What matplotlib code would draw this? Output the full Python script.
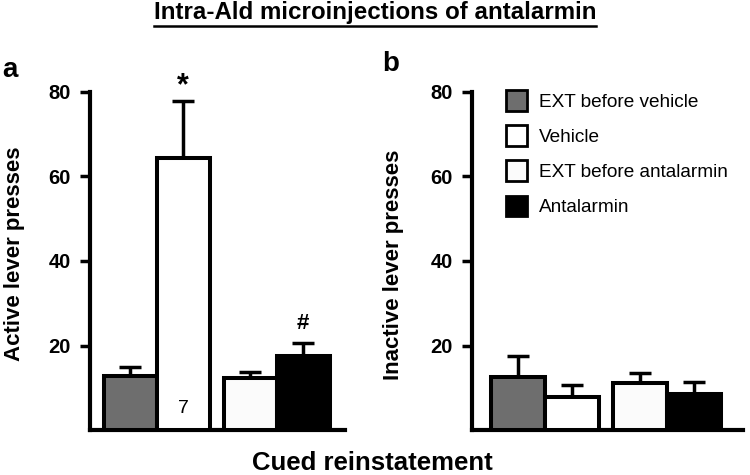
import matplotlib
matplotlib.use("Agg")
import matplotlib.pyplot as plt
from matplotlib.patches import Patch
from matplotlib.lines import Line2D

plt.rcParams['font.family'] = ['Liberation Sans', 'DejaVu Sans']

groups = ["EXT before vehicle", "Vehicle", "EXT before antalarmin", "Antalarmin"]
colors = ["#6e6e6e", "#ffffff", "#fbfbfb", "#000000"]
active_mean = [12.8, 64.4, 12.2, 17.4]
active_err = [2.1, 13.5, 1.5, 3.3]
inactive_mean = [12.6, 7.9, 11.1, 8.5]
inactive_err = [4.9, 2.7, 2.5, 2.9]
yticks = [20, 40, 60, 80]

W, H = 750, 475
fig = plt.figure(figsize=(7.5, 4.75), dpi=100)

def fx(px):
    return px / W

def fy(py):
    return 1 - py / H

ax_a = fig.add_axes([fx(90), fy(430), fx(345 - 90), (430 - 92) / H])
ax_b = fig.add_axes([fx(472), fy(430), fx(743 - 472), (430 - 92) / H])

xpos = [0, 1, 2.26, 3.26]

def draw(ax, means, errs, xlim, ylabel, lab_xy):
    ax.bar(xpos, means, width=1.0, color=colors, edgecolor='black',
           linewidth=2.9, zorder=3)
    ax.errorbar(xpos, means, yerr=[[0] * 4, errs], fmt='none', ecolor='black',
                elinewidth=2.5, capsize=8, capthick=2.5, zorder=2)
    ax.set_ylim(0, 80)
    ax.set_xlim(*xlim)
    ax.set_yticks(yticks)
    ax.set_xticks([])
    for s in ['top', 'right']:
        ax.spines[s].set_visible(False)
    for s in ['left', 'bottom']:
        ax.spines[s].set_linewidth(3.0)
    ax.tick_params(axis='y', length=7, width=2.5, pad=7, labelsize=14.5)
    for lab in ax.get_yticklabels():
        lab.set_fontweight('bold')
    ax.set_ylabel(ylabel, fontsize=16, fontweight='bold')
    ax.yaxis.set_label_coords(*lab_xy)

draw(ax_a, active_mean, active_err, (-0.76, 4.05), "Active lever presses",
     (-0.256, 0.52))
draw(ax_b, inactive_mean, inactive_err, (-0.86, 4.17), "Inactive lever presses",
     (-0.252, 0.49))

# annotations
ax_a.text(xpos[1], active_mean[1] + active_err[1] + 3.5, "*", ha='center',
          va='center', fontsize=22, fontweight='bold')
ax_a.text(xpos[3], active_mean[3] + active_err[3] + 4.5, "#", ha='center',
          va='center', fontsize=16, fontweight='bold')
ax_a.text(xpos[1], 5, "7", ha='center', va='center', fontsize=14)

# legend
handles = [Patch(facecolor=c, edgecolor='black', linewidth=2.0) for c in colors]
leg = ax_b.legend(handles, groups, loc='upper left',
                  bbox_to_anchor=(fx(506), fy(90)), bbox_transform=fig.transFigure,
                  frameon=False, fontsize=13.7, handlelength=1.1, handleheight=1.3,
                  handletextpad=0.65, labelspacing=0.76, borderpad=0, borderaxespad=0)

# panel letters
fig.text(fx(2), fy(70), "a", fontsize=20, fontweight='bold', ha='left', va='center')
fig.text(fx(382), fy(64), "b", fontsize=20, fontweight='bold', ha='left', va='center')

# x label
fig.text(0.497, fy(463), "Cued reinstatement", fontsize=18.5, fontweight='bold',
         ha='center', va='center')

# title with underline
t = fig.text(0.5, fy(13), "Intra-Ald microinjections of antalarmin", fontsize=17.4,
             fontweight='bold', ha='center', va='center')
fig.canvas.draw()
bb = t.get_window_extent(renderer=fig.canvas.get_renderer())
uy = bb.y0 - 1
fig.add_artist(Line2D([bb.x0 / fig.bbox.width, bb.x1 / fig.bbox.width],
                      [uy / fig.bbox.height, uy / fig.bbox.height],
                      transform=fig.transFigure, color='black', linewidth=1.8))

fig.savefig("out.png", dpi=100)
